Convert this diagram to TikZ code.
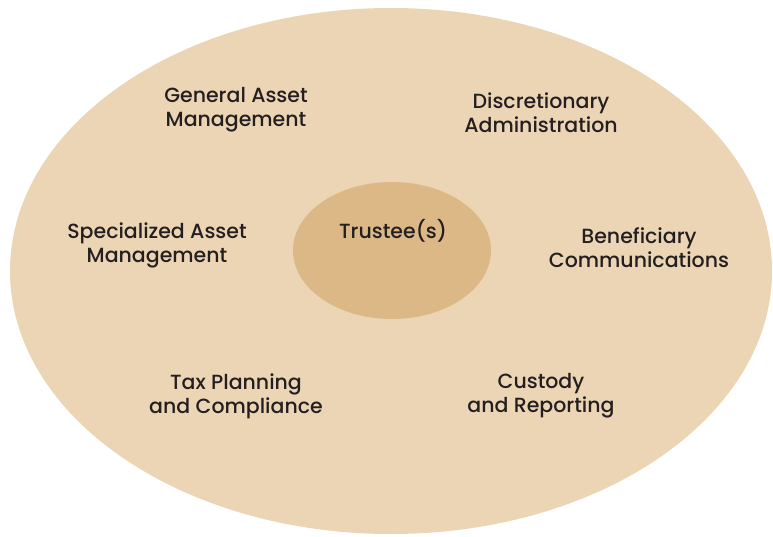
\documentclass[tikz,border=0pt]{standalone}
\usepackage{fontspec}
\setmainfont{Poppins Medium}
\usetikzlibrary{shapes.geometric}
\definecolor{outerfill}{HTML}{EBD5B5}
\definecolor{innerfill}{HTML}{DCB887}
\definecolor{labeltext}{HTML}{231F20}
\begin{document}
\begin{tikzpicture}[x=1pt,y=-1pt,
  ring/.style={ellipse, draw=none, inner sep=0pt},
  role/.style={align=center, text=labeltext, font=\fontsize{20.5}{24}\selectfont, inner sep=0pt}]
\useasboundingbox (0,0) rectangle (773,536);
\node[ring, fill=outerfill, minimum width=762pt, minimum height=526pt] (outer) at (391,271) {};
\node[ring, fill=innerfill, minimum width=198pt, minimum height=137pt] (inner) at (392,250.5) {};
\node[role] (trustee) at (393,231) {Trustee(s)};
\node[role] (general) at (236,110) {General Asset\\Management};
\node[role] (discretionary) at (541,113) {Discretionary\\Administration};
\node[role] (specialized) at (157,245) {Specialized Asset\\Management};
\node[role] (beneficiary) at (639,248) {Beneficiary\\Communications};
\node[role] (tax) at (236,396) {Tax Planning\\and Compliance};
\node[role] (custody) at (541,396) {Custody\\and Reporting};
\end{tikzpicture}
\end{document}
